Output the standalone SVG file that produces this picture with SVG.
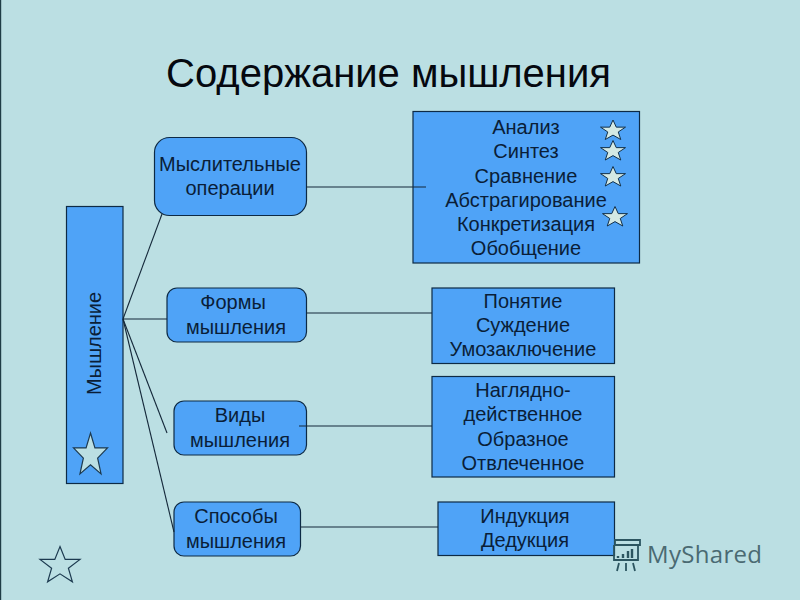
<svg xmlns="http://www.w3.org/2000/svg" width="800" height="600" viewBox="0 0 800 600">
<style>
.box{fill:#4fa3f7;stroke:#0d2a45;stroke-width:1.2}
.t{font-family:"Liberation Sans",Arial,sans-serif;font-size:20px;fill:#0a1e38;text-anchor:middle}
.c{stroke:#14283a;stroke-width:1.1;fill:none}
.s{fill:#d4e9e4;stroke:#12304a;stroke-width:1}
.o{fill:#bbdfe3;stroke:#1c3a50;stroke-width:1.200}
#star{vector-effect:non-scaling-stroke}
</style>
<defs>
<polygon id="star" points="0,-10 2.6,-3.2 10,-3.2 4.2,1.4 6.2,8.6 0,4.4 -6.2,8.6 -4.2,1.4 -10,-3.2 -2.600,-3.200"/>
</defs>
<rect width="800" height="600" fill="#bbdfe3"/>
<rect x="0" y="0" width="1.2" height="600" fill="#1f3d46"/>
<text x="388.500" y="87" font-family="Liberation Sans,Arial,sans-serif" font-size="40" fill="#05080f" text-anchor="middle">Содержание мышления</text>
<g id="n-main">
<rect class="box" x="66.500" y="206.500" width="56.500" height="277"/>
<text class="t" transform="translate(101,343.500) rotate(-90)">Мышление</text>
<use href="#star" class="o" transform="translate(90.500,455) scale(1.7,2.200)"/>
</g>
<g id="n-ops">
<rect class="box" x="154.500" y="137.500" width="152" height="78" rx="15"/>
<text class="t" x="230" y="171">Мыслительные</text>
<text class="t" x="230" y="195">операции</text>
</g>
<g id="n-forms">
<rect class="box" x="167" y="288" width="139.500" height="54" rx="10"/>
<text class="t" x="233" y="309">Формы</text>
<text class="t" x="236" y="334">мышления</text>
</g>
<g id="n-kinds">
<rect class="box" x="174" y="401" width="132.500" height="54" rx="10"/>
<text class="t" x="240" y="422">Виды</text>
<text class="t" x="240" y="447">мышления</text>
</g>
<g id="n-ways">
<rect class="box" x="174" y="502" width="126.500" height="54" rx="10"/>
<text class="t" x="236" y="523">Способы</text>
<text class="t" x="236" y="548">мышления</text>
</g>
<g id="n-ops-list">
<rect class="box" x="413" y="111.500" width="226.500" height="151.500"/>
<text class="t" x="526" y="134">Анализ</text>
<text class="t" x="526" y="158">Синтез</text>
<text class="t" x="526" y="183">Сравнение</text>
<text class="t" x="526" y="207">Абстрагирование</text>
<text class="t" x="526" y="231">Конкретизация</text>
<text class="t" x="526" y="255">Обобщение</text>
<use href="#star" class="s" transform="translate(613,130.500) scale(1.25,1.05)"/>
<use href="#star" class="s" transform="translate(613,151) scale(1.25,1.05)"/>
<use href="#star" class="s" transform="translate(613,177) scale(1.25,1.05)"/>
<use href="#star" class="s" transform="translate(615,217) scale(1.25,1.05)"/>
</g>
<g id="n-forms-list">
<rect class="box" x="432" y="288" width="182.500" height="75.500"/>
<text class="t" x="523" y="308">Понятие</text>
<text class="t" x="523" y="332">Суждение</text>
<text class="t" x="523" y="356">Умозаключение</text>
</g>
<g id="n-kinds-list">
<rect class="box" x="432" y="376.500" width="182.500" height="100.500"/>
<text class="t" x="523" y="397">Наглядно-</text>
<text class="t" x="523" y="421">действенное</text>
<text class="t" x="523" y="446">Образное</text>
<text class="t" x="523" y="470">Отвлеченное</text>
</g>
<g id="n-ways-list">
<rect class="box" x="438" y="502" width="176.500" height="53.500"/>
<text class="t" x="525" y="523">Индукция</text>
<text class="t" x="525" y="547">Дедукция</text>
</g>
<g id="connectors">
<line class="c" x1="123" y1="319" x2="162" y2="214"/>
<line class="c" x1="123" y1="319" x2="167" y2="319"/>
<line class="c" x1="123" y1="319" x2="167" y2="433"/>
<line class="c" x1="123" y1="319" x2="174" y2="532"/>
<line class="c" x1="306" y1="187" x2="426" y2="187"/>
<line class="c" x1="306" y1="313" x2="432" y2="313"/>
<line class="c" x1="299" y1="426" x2="432" y2="426"/>
<line class="c" x1="300" y1="527" x2="438" y2="527"/>
</g>
<use id="n-star" href="#star" class="o" transform="translate(60,565.500) scale(2,1.900)"/>
<g id="watermark">
<path d="M615 540h25v5h-25zM614 545v15h24v-15M619 563l-2 8M626 563v8M633 563l2 8" fill="none" stroke="#2c5560" stroke-width="1.800"/>
<path d="M618 558v-2M623 558v-4M628 558v-7M632 558v-9" stroke="#2c5560" stroke-width="2.400" fill="none"/>
<text x="647" y="563" font-family="Open Sans,sans-serif" font-size="24" textLength="115" fill="#4a6a72">MyShared</text>
</g>
</svg>
